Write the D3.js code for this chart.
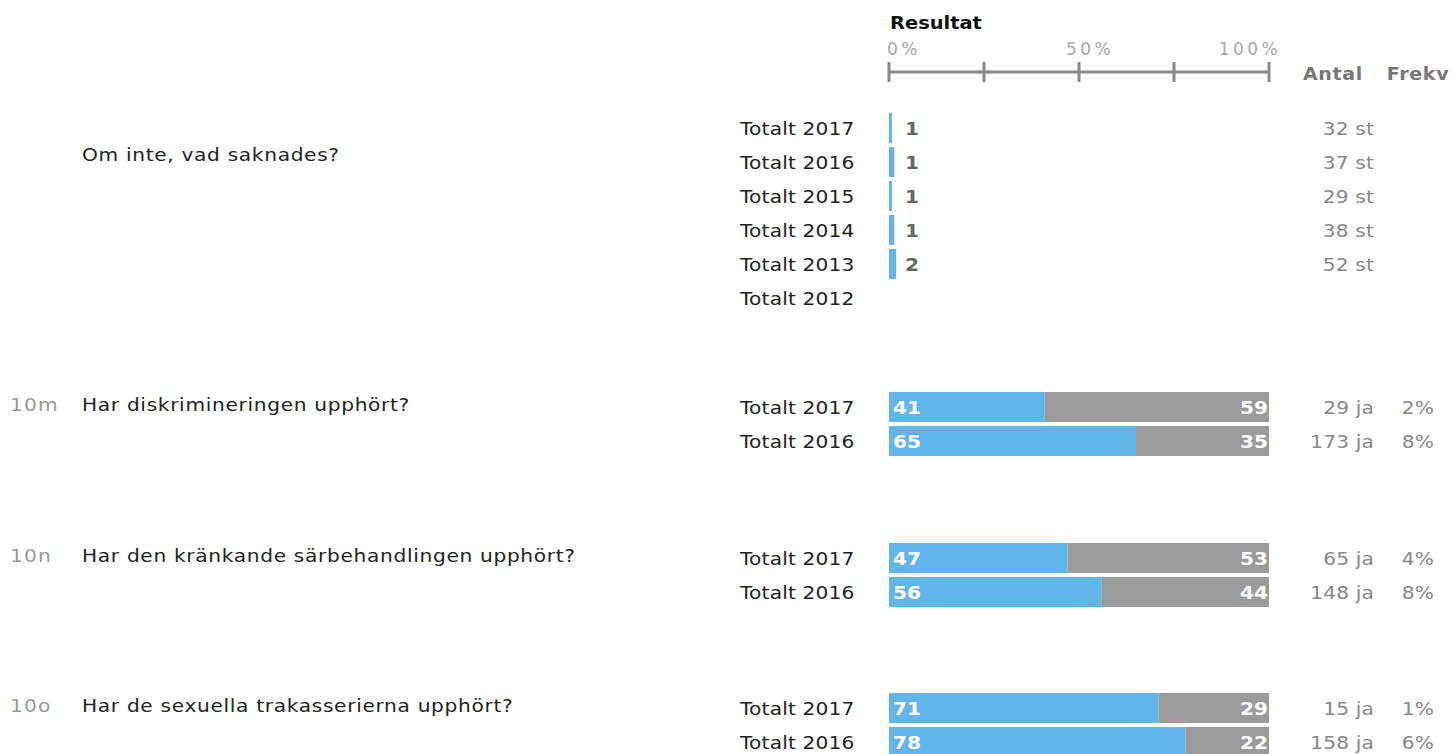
<!DOCTYPE html>
<html>
<head>
<meta charset="utf-8">
<script src="https://cdn.jsdelivr.net/npm/d3@7"></script>
<style>
  html, body { margin: 0; padding: 0; background: #fff; }
  svg { display: block; }
  text { font-family: "DejaVu Sans", Verdana, sans-serif; }
</style>
</head>
<body>
<svg id="chart" width="1454" height="754"></svg>
<script>
// ---- data ----
const questionIds = ["", "10m", "10n", "10o"];
const questions = [
  "Om inte, vad saknades?",
  "Har diskrimineringen upphört?",
  "Har den kränkande särbehandlingen upphört?",
  "Har de sexuella trakasserierna upphört?"
];
const yearsLong = ["Totalt 2017", "Totalt 2016", "Totalt 2015", "Totalt 2014", "Totalt 2013", "Totalt 2012"];
const yearsShort = ["Totalt 2017", "Totalt 2016"];

// free-text share (%) and counts for "Om inte, vad saknades?"
const freeTextShare = [0.8, 1.4, 0.8, 1.4, 1.9, null];
const freeTextCount = [32, 37, 29, 38, 52, null];

// share answering "ja" (%), count of "ja", and frequency (%)
const yes10m = [41, 65];
const count10m = [29, 173];
const freq10m = [2, 8];

const yes10n = [47, 56];
const count10n = [65, 148];
const freq10n = [4, 8];

const yes10o = [71, 78];
const count10o = [15, 158];
const freq10o = [1, 6];

const axisTicks = [0, 25, 50, 75, 100];
const axisTickLabels = ["0%", "50%", "100%"];
const headerLabels = ["Resultat", "Antal", "Frekv"];

// ---- layout ----
const rowStep = 34, barH = 30;
const blocks = [
  { id: questionIds[0], q: questions[0], rows: yearsLong, kind: "single",
    values: freeTextShare, counts: freeTextCount, unit: "st", freq: null },
  { id: questionIds[1], q: questions[1], rows: yearsShort, kind: "stack",
    values: yes10m, counts: count10m, unit: "ja", freq: freq10m },
  { id: questionIds[2], q: questions[2], rows: yearsShort, kind: "stack",
    values: yes10n, counts: count10n, unit: "ja", freq: freq10n },
  { id: questionIds[3], q: questions[3], rows: yearsShort, kind: "stack",
    values: yes10o, counts: count10o, unit: "ja", freq: freq10o }
];
const blockGaps = [75, 83, 82];
const questionOffsets = [48, 19, 19, 19];
let blockTop = 113;
blocks.forEach((b, i) => {
  b.top = blockTop;
  b.qOffset = questionOffsets[i];
  blockTop += b.rows.length * rowStep + (blockGaps[i] || 0);
});

const blue = "#62b5ea", grey = "#9b9b9b";
const sx = 1.12; // slightly widened lettering
const svg = d3.select("#chart");
const x = d3.scaleLinear().domain([0, 100]).range([889, 1269]);

// text helper: places a horizontally widened label at (px, py)
function label(parent, px, py, str, opts) {
  const o = Object.assign({ size: 18, ls: 0, fill: "#222", weight: "normal", anchor: "start", scale: sx }, opts);
  return parent.append("text")
    .attr("transform", `translate(${px},${py}) scale(${o.scale},1)`)
    .attr("text-anchor", o.anchor)
    .attr("font-size", o.size)
    .attr("font-weight", o.weight)
    .attr("letter-spacing", o.ls)
    .attr("fill", o.fill)
    .text(str);
}

// ---- header ----
label(svg, 890, 29, headerLabels[0], { weight: "bold", fill: "#111", scale: 1.08 });

const axisG = svg.append("g").attr("transform", "translate(0,72)");
axisG.append("line").attr("x1", x(0)).attr("x2", x(100))
  .attr("stroke", "#8a8a8a").attr("stroke-width", 3);
axisG.selectAll("line.tick").data(axisTicks).join("line")
  .attr("class", "tick")
  .attr("x1", d => x(d)).attr("x2", d => x(d))
  .attr("y1", -10).attr("y2", 10)
  .attr("stroke", "#8a8a8a").attr("stroke-width", 3);

const tickLabelPos = [
  { v: 0, anchor: "start", dx: -2 },
  { v: 50, anchor: "middle", dx: 11 },
  { v: 100, anchor: "end", dx: 12 }
];
svg.selectAll("text.axlab").data(axisTickLabels).join("text")
  .attr("class", "axlab")
  .attr("x", (d, i) => x(tickLabelPos[i].v) + tickLabelPos[i].dx)
  .attr("y", 55)
  .attr("text-anchor", (d, i) => tickLabelPos[i].anchor)
  .attr("font-family", "'DejaVu Sans Mono', 'Liberation Mono', monospace")
  .attr("font-size", 17).attr("letter-spacing", 3.4).attr("fill", "#a8a8a8")
  .text(d => d);

label(svg, 1333, 80, headerLabels[1], { size: 17, weight: "bold", fill: "#777", anchor: "middle", ls: 0.6 });
label(svg, 1418, 80, headerLabels[2], { size: 17, weight: "bold", fill: "#777", anchor: "middle", ls: 0.6 });

// ---- blocks ----
blocks.forEach(b => {
  const g = svg.append("g");
  const pad = (rowStep - barH) / rowStep;
  const y = d3.scaleBand().domain(b.rows)
    .range([b.top, b.top + b.rows.length * rowStep - (rowStep - barH)])
    .paddingInner(pad).paddingOuter(0);

  if (b.id) label(g, 10, b.top + b.qOffset, b.id, { fill: "#999", ls: 1 });
  label(g, 82, b.top + b.qOffset, b.q, { fill: "#222", ls: 0.6 });

  b.rows.forEach((r, i) => {
    const cy = y(r) + y.bandwidth() / 2;
    label(g, 740, cy + 6.5, r, { fill: "#222", ls: 0.15 });

    const v = b.values[i];
    if (v == null) return;

    if (b.kind === "single") {
      g.append("rect").attr("x", x(0)).attr("y", y(r))
        .attr("width", x(v) - x(0)).attr("height", y.bandwidth()).attr("fill", blue);
      label(g, 905, cy + 7, Math.round(v), { weight: "bold", fill: "#666" });
    } else {
      const no = 100 - v;
      g.append("rect").attr("x", x(0)).attr("y", y(r))
        .attr("width", x(v) - x(0)).attr("height", y.bandwidth()).attr("fill", blue);
      g.append("rect").attr("x", x(v)).attr("y", y(r))
        .attr("width", x(100) - x(v)).attr("height", y.bandwidth()).attr("fill", grey);
      label(g, x(0) + 4, cy + 7, v, { weight: "bold", fill: "#fff" });
      label(g, x(100) - 1, cy + 7, no, { weight: "bold", fill: "#fff", anchor: "end" });
    }

    label(g, 1374, cy + 6.5, b.counts[i] + " " + b.unit, { fill: "#888", anchor: "end", ls: 0.15 });
    if (b.freq) label(g, 1434, cy + 6.5, b.freq[i] + "%", { fill: "#888", anchor: "end", ls: 0.15 });
  });
});
</script>
</body>
</html>
